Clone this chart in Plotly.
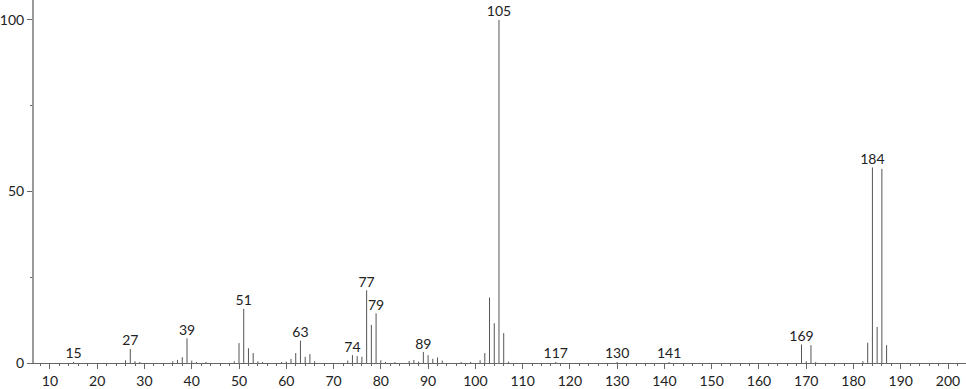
import plotly.graph_objects as go

# m/z values and relative intensities
mz = [15, 26, 27, 28, 29, 36, 37, 38, 39, 40, 41, 43, 49, 50, 51, 52, 53, 54, 55,
      59, 60, 61, 62, 63, 64, 65, 66, 73, 74, 75, 76, 77, 78, 79, 80, 81, 83, 86, 87, 88,
      89, 90, 91, 92, 93, 97, 99, 101, 102, 103, 104, 105, 106, 107, 117, 130, 141,
      169, 170, 171, 172, 182, 183, 184, 185, 186, 187]
intensity = [0.3, 0.8, 4.1, 0.5, 0.3, 0.5, 0.9, 1.7, 7.2, 0.7, 0.3, 0.3, 0.5, 5.8, 15.8, 4.3, 2.9, 0.5, 0.3,
             0.3, 0.4, 1.2, 2.9, 6.5, 1.8, 2.6, 0.5, 0.7, 2.3, 2.0, 1.8, 21.2, 11.1, 14.5, 0.8, 0.3, 0.3, 0.6, 0.9, 0.4,
             3.2, 2.3, 1.2, 1.6, 0.7, 0.3, 0.3, 0.8, 2.9, 19.1, 11.6, 100.0, 8.7, 0.4, 0.3, 0.3, 0.3,
             5.4, 0.5, 5.2, 0.3, 0.5, 5.9, 57.0, 10.5, 56.6, 5.2]
labelled = [15, 27, 39, 51, 63, 74, 77, 79, 89, 105, 117, 130, 141, 169, 184]

x_major = [10, 20, 30, 40, 50, 60, 70, 80, 90, 100, 110, 120, 130, 140, 150, 160, 170, 180, 190, 200]
y_major = [0, 50, 100]

xs, ys = [], []
for m, v in zip(mz, intensity):
    xs += [m, m, None]
    ys += [0, v, None]

fig = go.Figure()
fig.add_trace(go.Scatter(x=xs, y=ys, mode="lines",
                         line=dict(color="#555555", width=1),
                         hoverinfo="skip", showlegend=False))

lookup = dict(zip(mz, intensity))
lab_y = [lookup[m] for m in labelled]
fig.add_trace(go.Scatter(x=labelled, y=lab_y, mode="text",
                         text=[str(m) for m in labelled],
                         textposition="top center",
                         textfont=dict(family="Lato, DejaVu Sans", size=14, color="#222222"),
                         showlegend=False, hoverinfo="skip"))

fig.update_layout(
    width=966, height=389,
    margin=dict(l=29, r=0, t=0, b=22),
    paper_bgcolor="white", plot_bgcolor="white",
    font=dict(family="Lato, DejaVu Sans", size=14, color="#222222"),
)
fig.update_xaxes(range=[6.63, 203.8], tickvals=x_major, ticks="outside", ticklen=5,
                 tickcolor="#666666", showgrid=False, zeroline=False,
                 showline=True, linecolor="#666666", linewidth=1,
                 minor=dict(dtick=2, tick0=0, ticks="outside", ticklen=2, tickcolor="#666666", showgrid=False),
                 tickfont=dict(size=14, color="#222222"))
fig.update_yaxes(range=[0, 105.8], tickvals=y_major, ticks="outside", ticklen=5,
                 tickcolor="#666666", showgrid=False, zeroline=False,
                 showline=True, linecolor="#999999", linewidth=2,
                 minor=dict(tickvals=[25, 75], ticks="outside", ticklen=2, tickcolor="#666666", showgrid=False),
                 tickfont=dict(size=14, color="#222222"))

fig.write_html("out.html")
